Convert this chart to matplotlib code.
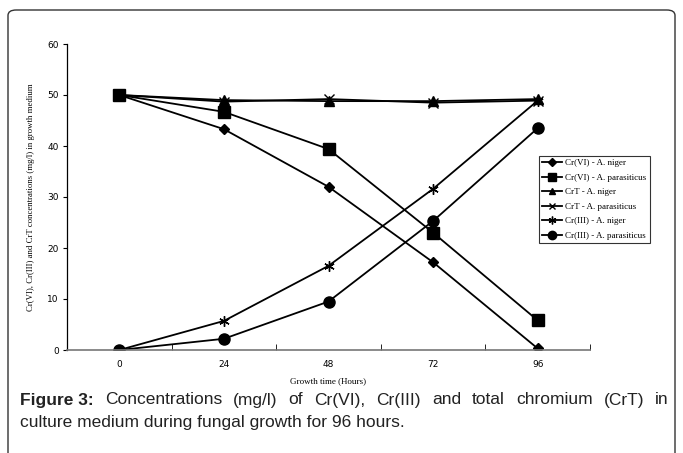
import matplotlib
matplotlib.use("Agg")
import matplotlib.pyplot as plt
from matplotlib.patches import FancyBboxPatch

hours = ["0", "24", "48", "72", "96"]

cr6_niger = [50, 43.3, 32.0, 17.2, 0.3]
cr6_parasiticus = [50, 46.7, 39.4, 23.0, 5.8]
crt_niger = [50, 49.0, 48.8, 48.8, 49.2]
crt_parasiticus = [50, 48.7, 49.2, 48.5, 48.9]
cr3_niger = [0, 5.7, 16.5, 31.6, 48.9]
cr3_parasiticus = [0, 2.2, 9.5, 25.3, 43.5]

series = [
    ("Cr(VI) - A. niger", cr6_niger, "D", 5),
    ("Cr(VI) - A. parasiticus", cr6_parasiticus, "s", 8),
    ("CrT - A. niger", crt_niger, "^", 6.5),
    ("CrT - A. parasiticus", crt_parasiticus, "x", 6.5),
    ("Cr(III) - A. niger", cr3_niger, (6, 2, 0), 7.5),
    ("Cr(III) - A. parasiticus", cr3_parasiticus, "o", 8),
]

caption_line1 = ["Figure 3:", "Concentrations", "(mg/l)", "of", "Cr(VI),",
                 "Cr(III)", "and", "total", "chromium", "(CrT)", "in"]
caption_line2 = "culture medium during fungal growth for 96 hours."

W, H = 683, 453
fig = plt.figure(figsize=(W / 100, H / 100), dpi=100)

# rounded frame around figure + caption
frame = FancyBboxPatch((8 / W, -0.1), (675 - 8) / W, (H - 10) / H + 0.1,
                       boxstyle="round,pad=0,rounding_size=0.012",
                       transform=fig.transFigure, facecolor="none",
                       edgecolor="#333333", linewidth=1.0)
fig.patches.append(frame)

ax = fig.add_axes([67 / W, (H - 350) / H, (590 - 67) / W, (350 - 44) / H])

x = list(range(len(hours)))
for label, vals, mk, ms in series:
    ax.plot(x, vals, color="black", linewidth=1.3, marker=mk, markersize=ms,
            markeredgecolor="black", markerfacecolor="black",
            markeredgewidth=1.0, label=label)

ax.set_xlim(-0.5, 4.5)
ax.set_ylim(0, 60)
ax.set_yticks(range(0, 61, 10))
ax.set_xticks(x)
ax.set_xticklabels(hours)
ax.set_xticks([i + 0.5 for i in x], minor=True)
ax.tick_params(axis="x", which="major", length=0, pad=7, labelsize=6.5)
ax.tick_params(axis="x", which="minor", length=4, direction="in", color="black")
ax.tick_params(axis="y", length=3, direction="out", labelsize=6.5, pad=3)

for side in ["top", "right"]:
    ax.spines[side].set_visible(False)
ax.spines["left"].set_color("black")
ax.spines["left"].set_linewidth(0.9)
ax.spines["bottom"].set_color("#777777")
ax.spines["bottom"].set_linewidth(1.2)

ax.set_xlabel("Growth time (Hours)", family="Liberation Serif", fontsize=6.5,
              labelpad=6)
ax.set_ylabel("Cr(VI), Cr(III) and CrT concentrations (mg/l) in growth medium",
              family="Liberation Serif", fontsize=6.3, labelpad=9)

leg = fig.legend(loc="upper left", bbox_to_anchor=(534 / W, 1 - 151 / H),
                 prop={"family": "Liberation Serif", "size": 6.5},
                 frameon=True, fancybox=False, borderpad=0.4,
                 labelspacing=0.68, handlelength=2.2, handletextpad=0.3,
                 markerscale=0.75)
leg.get_frame().set_edgecolor("black")
leg.get_frame().set_linewidth(0.8)

# justified first caption line: place words one by one
cap_kw = dict(family="Liberation Sans", fontsize=12.5, color="#222222",
              va="center")
renderer = fig.canvas.get_renderer()
words = []
for i, w in enumerate(caption_line1):
    t = fig.text(0, 1 - 400 / H, w, fontweight="bold" if i == 0 else "normal",
                 **cap_kw)
    words.append(t)
widths = [t.get_window_extent(renderer).width for t in words]
left, right = 20, 669
gap = (right - left - sum(widths)) / (len(words) - 1)
pos = left
for t, wd in zip(words, widths):
    t.set_x(pos / W)
    pos += wd + gap

fig.text(20 / W, 1 - 423 / H, caption_line2, **cap_kw)

fig.savefig("out.png", dpi=100)
